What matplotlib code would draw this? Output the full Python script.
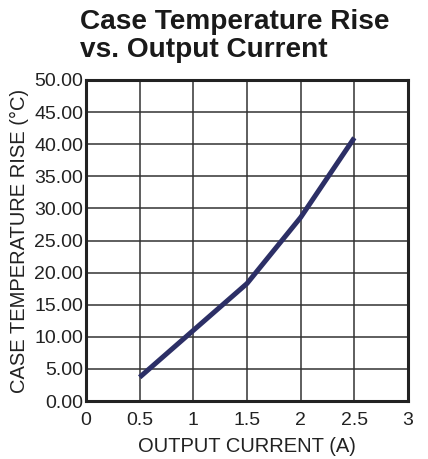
import matplotlib.pyplot as plt

# data
current = [0.5, 1.0, 1.5, 2.0, 2.5]
temp_rise = [3.7, 11.0, 18.3, 28.6, 41.0]

x_ticks = [0, 0.5, 1, 1.5, 2, 2.5, 3]
x_tick_labels = ["0", "0.5", "1", "1.5", "2", "2.5", "3"]
y_ticks = [0, 5, 10, 15, 20, 25, 30, 35, 40, 45, 50]
y_tick_labels = ["%.2f" % v for v in y_ticks]

plt.rcParams['font.family'] = ['Liberation Sans', 'DejaVu Sans']

fig = plt.figure(figsize=(4.28, 4.59), dpi=100)
ax = fig.add_axes([86 / 428, 1 - 401 / 459, 322 / 428, 321 / 459])

ax.plot(current, temp_rise, color='#2c2f66', linewidth=3.6, solid_capstyle='butt', zorder=3)

ax.set_xlim(0, 3)
ax.set_ylim(0, 50)
ax.set_xticks(x_ticks)
ax.set_xticklabels(x_tick_labels)
ax.set_yticks(y_ticks)
ax.set_yticklabels(y_tick_labels)
ax.tick_params(length=0, labelsize=14, colors='#222222')
ax.tick_params(axis='x', pad=8)
ax.tick_params(axis='y', pad=2)

ax.grid(True, color='#333333', linewidth=1.1)
for s in ax.spines.values():
    s.set_linewidth(2.2)
    s.set_color('#222222')

ax.set_xlabel("OUTPUT CURRENT (A)", fontsize=14.5, color='#222222', labelpad=6)
ax.set_ylabel("CASE TEMPERATURE RISE (\u00b0C)", fontsize=14.5, color='#222222', labelpad=4)

fig.text(80 / 428, 1 - 9 / 459, "Case Temperature Rise\nvs. Output Current",
         fontsize=20.2, fontweight='bold', color='#1a1a1a', va='top', ha='left',
         linespacing=1.12)

fig.savefig("out.png", dpi=100)
